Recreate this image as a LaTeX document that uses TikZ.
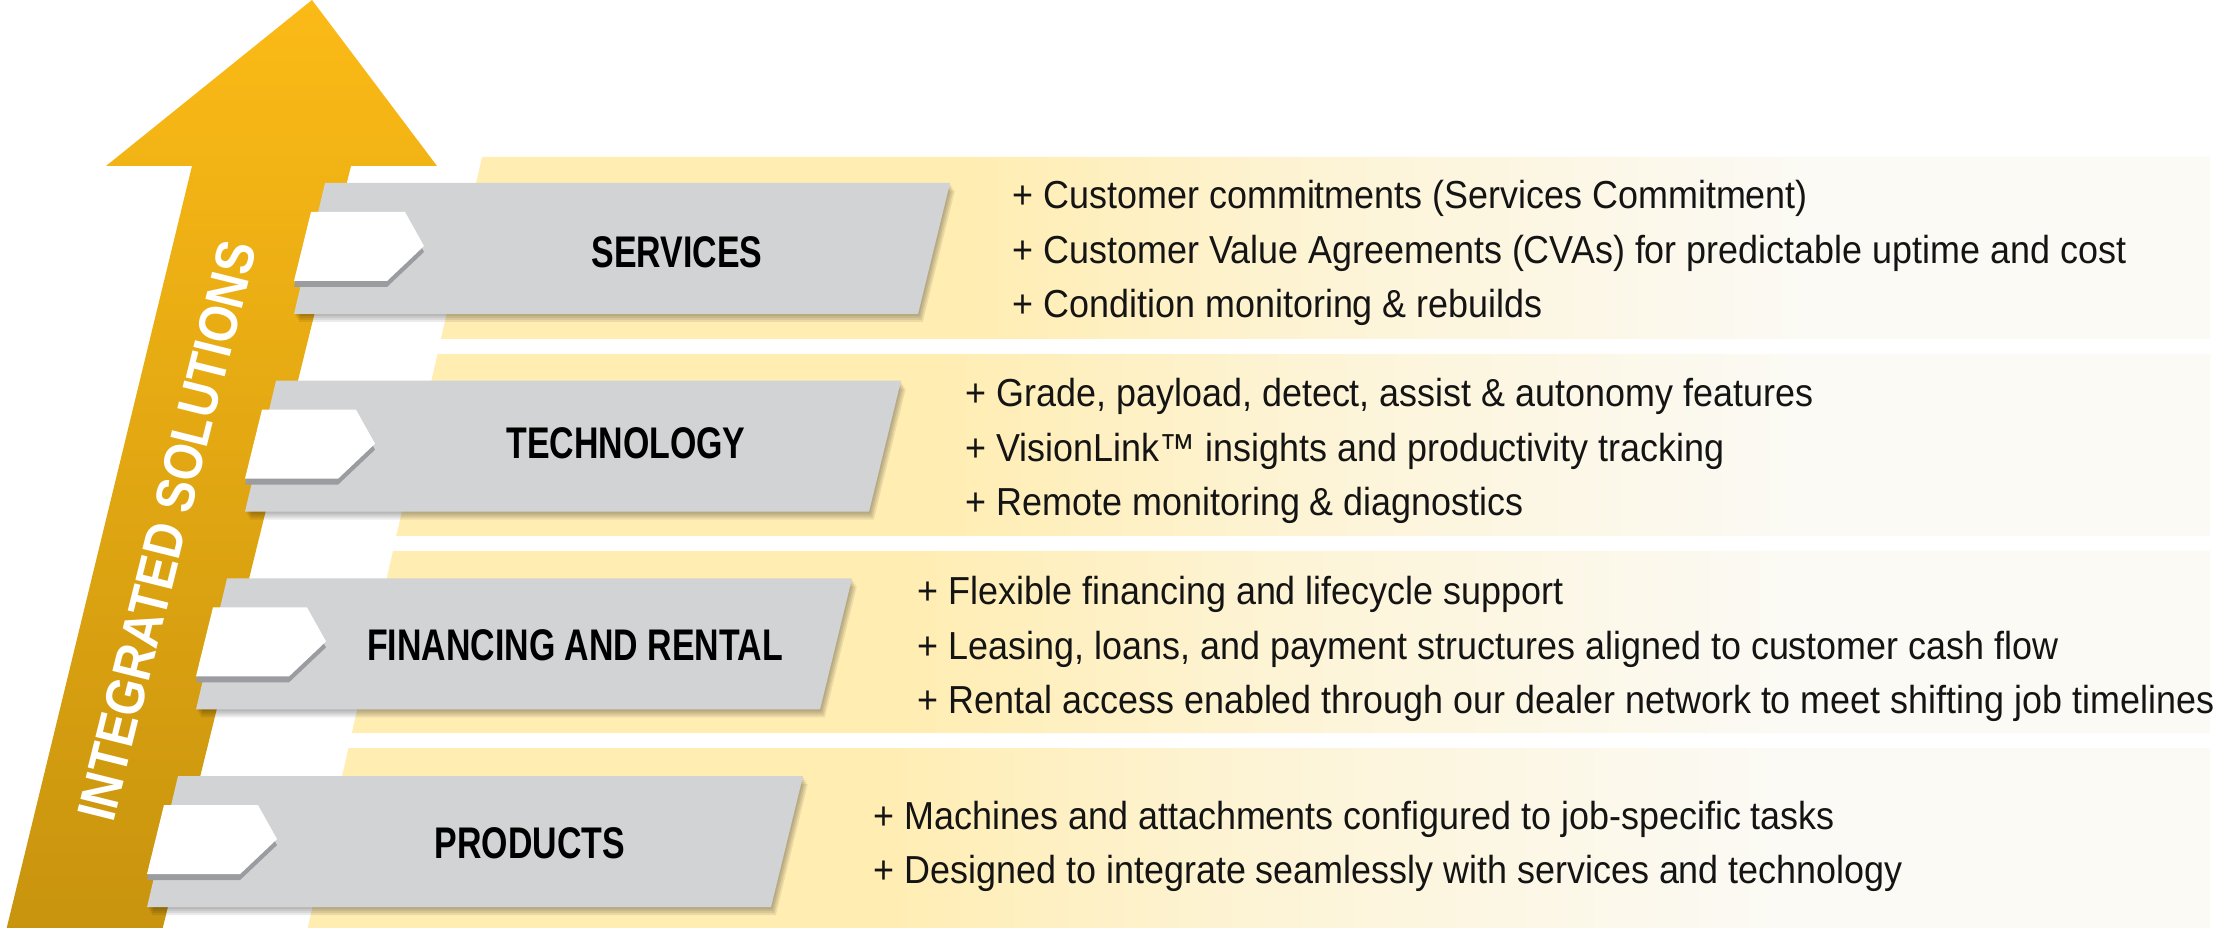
\documentclass[tikz,border=0pt]{standalone}
\usepackage{fontspec}
\setmainfont{Liberation Sans}
\newfontfamily\condfont[FakeStretch=0.92]{Liberation Sans}
\newfontfamily\headfont[FakeStretch=0.765]{Liberation Sans}
\newfontfamily\arrowfont[FakeStretch=0.87]{Liberation Sans}
\usepackage{tikz}
\definecolor{arrowtop}{RGB}{251, 186, 22}
\definecolor{arrowbottom}{RGB}{200, 148, 14}
\definecolor{boxgray}{RGB}{209, 211, 212}
\definecolor{tabshade}{RGB}{155, 156, 160}
\definecolor{bandyellow}{RGB}{255, 237, 178}
\definecolor{bandmid}{RGB}{253, 244, 214}
\definecolor{bandpale}{RGB}{251, 250, 245}
\definecolor{notetext}{RGB}{20, 20, 20}
\pgfdeclarehorizontalshading{bandfade}{100bp}{color(0bp)=(bandyellow); color(40bp)=(bandyellow); color(50bp)=(bandmid); color(64bp)=(bandpale); color(100bp)=(bandpale)}
\tikzset{
  stepbox/.style={fill=boxgray},
  tabbox/.style={fill=white},
  tabshadow/.style={fill=tabshade},
  headlabel/.style={font=\headfont\bfseries\fontsize{12.6pt}{15pt}\selectfont, inner sep=0pt},
  notelist/.style={font=\condfont\fontsize{11.1pt}{15.4pt}\selectfont, text=notetext, align=left, anchor=west, inner sep=0pt},
  arrowtext/.style={font=\arrowfont\bfseries\fontsize{15.5pt}{18pt}\selectfont, text=white, inner sep=0pt}
}

\begin{document}
\begin{tikzpicture}[x=0.01cm, y=-0.01cm]
  \useasboundingbox (0,0) rectangle (2222,928);
  % Yellow bands behind the steps
  \foreach \i in {0,...,3} {
    \pgfmathsetmacro{\yt}{157+197*\i}
    \pgfmathsetmacro{\yb}{\i==3 ? 935 : 339+197*\i}
    \pgfmathsetmacro{\xt}{482-0.226*(\yt-157)}
    \pgfmathsetmacro{\xb}{482-0.226*(\yb-157)}
    \shade[shading=bandfade] (\xt,\yt) -- (2210,\yt) -- (2210,\yb) -- (\xb,\yb) -- cycle;
  }
  % Big arrow
  \shade[top color=arrowtop, bottom color=arrowbottom]
    (312,0) -- (437,166) -- (351,166) -- (161,935) -- (5,935) -- (192,166) -- (106,166) -- cycle;
  \node[arrowtext, rotate=76] (integrated) at (167,531) {INTEGRATED SOLUTIONS};
  % Steps with tabs
  \foreach \i in {0,...,3} {
    \begin{scope}[shift={(-49*\i,197.7*\i)}]
      \foreach \s in {1,...,4}
        \fill[black, opacity=0.08, shift={(1.2*\s,2*\s)}] (325,183) -- (950,183) -- (918,314) -- (294,314) -- cycle;
      \fill[stepbox] (325,183) -- (950,183) -- (918,314) -- (294,314) -- cycle;
      \fill[tabshadow] (311,218) -- (405,218) -- (424,252) -- (387,287) -- (294,287) -- cycle;
      \fill[tabbox] (311,212) -- (405,212) -- (424,246) -- (387,281) -- (294,281) -- cycle;
    \end{scope}
  }
  % Step titles
  \node[headlabel] (services) at (677,252) {SERVICES};
  \node[headlabel] (technology) at (626,443) {TECHNOLOGY};
  \node[headlabel] (financing) at (575,645) {FINANCING AND RENTAL};
  \node[headlabel] (products) at (530,843) {PRODUCTS};
  % Notes
  \node[notelist] (servicesnotes) at (1012,253) {+ Customer commitments (Services Commitment)\\+ Customer Value Agreements (CVAs) for predictable uptime and cost\\+ Condition monitoring \& rebuilds};
  \node[notelist] (technologynotes) at (965,451) {+ Grade, payload, detect, assist \& autonomy features\\+ VisionLink™ insights and productivity tracking\\+ Remote monitoring \& diagnostics};
  \node[notelist] (financingnotes) at (917,649) {+ Flexible financing and lifecycle support\\+ Leasing, loans, and payment structures aligned to customer cash flow\\+ Rental access enabled through our dealer network to meet shifting job timelines};
  \node[notelist] (productsnotes) at (873,846) {+ Machines and attachments configured to job-specific tasks\\+ Designed to integrate seamlessly with services and technology};
\end{tikzpicture}
\end{document}
